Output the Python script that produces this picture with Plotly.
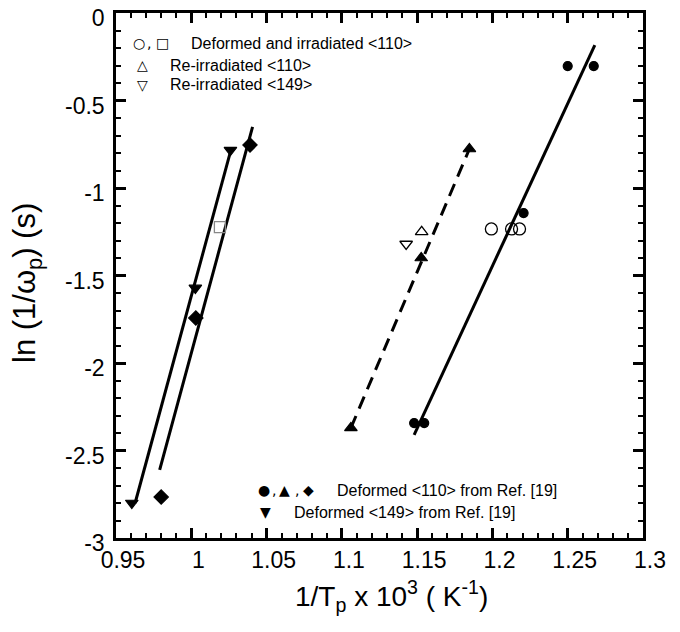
import plotly.graph_objects as go

# ---- data ----
# Deformed <149> from Ref. [19] (filled down triangles)
d149_x = [0.9605, 1.0027, 1.026]
d149_y = [-2.80, -1.571, -0.783]
# Deformed <110> from Ref. [19] - diamonds
d110_dia_x = [0.980, 1.003, 1.039]
d110_dia_y = [-2.766, -1.743, -0.754]
# Deformed <110> from Ref. [19] - filled triangles
d110_tri_x = [1.106, 1.1527, 1.1847]
d110_tri_y = [-2.371, -1.400, -0.777]
# Deformed <110> from Ref. [19] - filled circles
d110_cir_x = [1.148, 1.1547, 1.2207, 1.250, 1.2673]
d110_cir_y = [-2.343, -2.343, -1.143, -0.303, -0.303]
# Deformed and irradiated <110> - open circles / open square
di_cir_x = [1.1993, 1.2127, 1.218]
di_cir_y = [-1.234, -1.234, -1.234]
di_sq_x = [1.019]
di_sq_y = [-1.223]
# Re-irradiated <110> (open up triangle) and <149> (open down triangle)
re110_x = [1.153]
re110_y = [-1.251]
re149_x = [1.1427]
re149_y = [-1.320]

# fitted lines (end points)
fit_a_x = [0.9627, 1.0267]
fit_a_y = [-2.80, -0.771]
fit_b_x = [0.979, 1.0407]
fit_b_y = [-2.611, -0.651]
fit_c_x = [1.106, 1.1847]
fit_c_y = [-2.371, -0.777]
fit_d_x = [1.148, 1.268]
fit_d_y = [-2.411, -0.183]

x_ticks = [0.95, 1, 1.05, 1.1, 1.15, 1.2, 1.25, 1.3]
x_tick_text = ["0.95", "1", "1.05", "1.1", "1.15", "1.2", "1.25", "1.3"]
y_ticks = [0, -0.5, -1, -1.5, -2, -2.5, -3]
y_tick_text = ["0", "-0.5", "-1", "-1.5", "-2", "-2.5", "-3"]

x_title = "1/T<sub>p</sub> x 10<sup>3</sup> ( K<sup>-1</sup>)"
y_title = "ln (1/ω<sub>p</sub>) (s)"

# legend entries: (symbols, text) per row
legend_top_syms = [["○", ",", "□"], ["△"], ["▽"]]
legend_top_text = ["Deformed and irradiated <110>", "Re-irradiated <110>", "Re-irradiated <149>"]
legend_bot_syms = [["●", ",", "▲", ",", "◆"], ["▼"]]
legend_bot_text = ["Deformed <110> from Ref. [19]", "Deformed <149> from Ref. [19]"]

FONT = "Liberation Sans, Arial, sans-serif"
SYMFONT = "DejaVu Sans"
# page has an 8px body margin; figure is sized so the plot area lands
# at page x 116..643, y 13..538
OFF = 8
W, H = 680 - 2 * OFF, 632 - 2 * OFF
PL, PR, PT, PB = 116, 643, 13, 538
L, R, T, B = PL - OFF, OFF + W - PR, PT - OFF, OFF + H - PB

def px(xp):
    return (xp - PL) / (PR - PL)

def py(yp):
    return (PB - yp) / (PB - PT)

fig = go.Figure()

def line(x, y, dash="solid"):
    fig.add_trace(go.Scatter(x=x, y=y, mode="lines",
                             line=dict(color="black", width=3, dash=dash),
                             showlegend=False, hoverinfo="skip"))

line(fit_a_x, fit_a_y)
line(fit_b_x, fit_b_y)
line(fit_c_x, fit_c_y, dash="13px,8px")
line(fit_d_x, fit_d_y)

def pts(x, y, symbol, size, width=1.2):
    fig.add_trace(go.Scatter(x=x, y=y, mode="markers",
                             marker=dict(symbol=symbol, size=size, color="black",
                                         line=dict(color="black", width=width)),
                             showlegend=False))

def open_pts(x, y, symbol, size, color="black"):
    fig.add_trace(go.Scatter(x=x, y=y, mode="markers",
                             marker=dict(symbol=symbol, size=size, color="rgba(0,0,0,0)",
                                         line=dict(color=color, width=1.3)),
                             showlegend=False))

pts(d149_x, d149_y, "triangle-down", 11)
pts(d110_dia_x, d110_dia_y, "diamond", 11)
pts(d110_tri_x, d110_tri_y, "triangle-up", 11)
pts(d110_cir_x, d110_cir_y, "circle", 9)
open_pts(di_cir_x, di_cir_y, "circle", 12)
open_pts(di_sq_x, di_sq_y, "square", 11, color="#888888")
open_pts(re110_x, re110_y, "triangle-up", 11)
open_pts(re149_x, re149_y, "triangle-down", 11)

def sym(xc, yc, s, size=14):
    fig.add_annotation(x=px(xc), y=py(yc), xref="paper", yref="paper", text=s,
                       showarrow=False, xanchor="center", yanchor="middle",
                       font=dict(family=SYMFONT, size=size, color="black"))

def txt(xl, yc, s):
    fig.add_annotation(x=px(xl), y=py(yc), xref="paper", yref="paper", text=s,
                       showarrow=False, xanchor="left", yanchor="middle",
                       font=dict(family=FONT, size=16, color="black"))

# top-left legend block
top_rows_y = [43, 65, 85]
top_sym_x = [[139, 149, 162], [142], [142]]
top_text_x = [189, 168, 168]
for syms, xs, yc, t, tx in zip(legend_top_syms, top_sym_x, top_rows_y, legend_top_text, top_text_x):
    for s, xc in zip(syms, xs):
        sym(xc, yc, s)
    txt(tx, yc, t)

# bottom legend block
bot_rows_y = [490, 512]
bot_sym_x = [[264, 274, 284, 297, 308], [265]]
bot_text_x = [335, 292]
for syms, xs, yc, t, tx in zip(legend_bot_syms, bot_sym_x, bot_rows_y, legend_bot_text, bot_text_x):
    for s, xc in zip(syms, xs):
        sym(xc, yc, s)
    txt(tx, yc, t)

# axis titles as positioned annotations
fig.add_annotation(x=px(391), y=py(596), xref="paper", yref="paper", text=x_title,
                   showarrow=False, xanchor="center", yanchor="middle",
                   font=dict(family=FONT, size=28, color="black"))
fig.add_annotation(x=px(27), y=py(283), xref="paper", yref="paper", text=y_title,
                   showarrow=False, xanchor="center", yanchor="middle", textangle=-90,
                   font=dict(family=FONT, size=31, color="black"))

axis_common = dict(showline=True, linecolor="black", linewidth=2.5, mirror="ticks",
                   ticks="inside", ticklen=10, tickwidth=2.5, tickcolor="black",
                   showgrid=False, zeroline=False, automargin=False,
                   ticklabeloverflow="allow",
                   tickfont=dict(family=FONT, size=23, color="black"))

fig.update_xaxes(range=[0.95, 1.3], tickvals=x_ticks, ticktext=x_tick_text,
                 ticklabelshift=7,
                 minor=dict(ticks="inside", dtick=0.01, ticklen=5, tickwidth=2, tickcolor="black"),
                 **axis_common)
fig.update_yaxes(range=[-3, 0], tickvals=y_ticks, ticktext=y_tick_text,
                 ticklabelshift=5, ticklabelstandoff=4,
                 minor=dict(ticks="inside", dtick=0.1, ticklen=5, tickwidth=2, tickcolor="black"),
                 **axis_common)

fig.update_layout(width=W, height=H, plot_bgcolor="white", paper_bgcolor="white",
                  margin=dict(l=L, r=R, t=T, b=B), showlegend=False)

fig.write_html("out.html")
